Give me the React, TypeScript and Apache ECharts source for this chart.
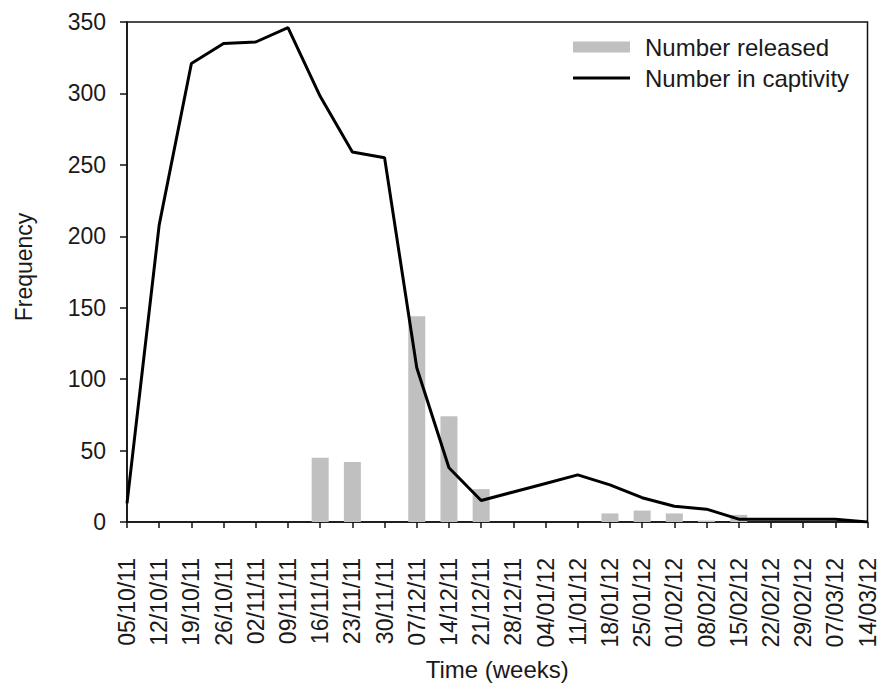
import React, { useEffect, useRef } from "react";
import * as echarts from "echarts";

const weeks = [
  "05/10/11", "12/10/11", "19/10/11", "26/10/11", "02/11/11", "09/11/11",
  "16/11/11", "23/11/11", "30/11/11", "07/12/11", "14/12/11", "21/12/11",
  "28/12/11", "04/01/12", "11/01/12", "18/01/12", "25/01/12", "01/02/12",
  "08/02/12", "15/02/12", "22/02/12", "29/02/12", "07/03/12", "14/03/12",
];
const numberReleased = [
  0, 0, 0, 0, 0, 0, 45, 42, 0, 144, 74, 23,
  0, 0, 0, 6, 8, 6, 1, 5, 0, 0, 0, 0,
];
const numberInCaptivity = [
  13, 208, 321, 335, 336, 346, 298, 259, 255, 108, 38, 15,
  21, 27, 33, 26, 17, 11, 9, 2, 2, 2, 2, 0,
];
const yTicks = { min: 0, max: 350, interval: 50 };

const FONT = "'Liberation Sans', Arial, sans-serif";
const FS = 23;

export default function App() {
  const ref = useRef<HTMLDivElement>(null);
  useEffect(() => {
    if (!ref.current) return;
    const chart = echarts.init(ref.current, undefined, { renderer: "svg" });
    chart.setOption({
      animation: false,
      backgroundColor: "#fff",
      textStyle: { fontFamily: FONT },
      grid: {
        left: 127,
        right: 10,
        top: 22,
        bottom: 167,
        show: true,
        borderColor: "#111",
        borderWidth: 1.5,
        backgroundColor: "transparent",
      },
      legend: {
        orient: "vertical",
        left: 573,
        top: 35,
        itemGap: 7,
        itemWidth: 57,
        itemHeight: 11,
        padding: 0,
        symbolKeepAspect: true,
        textStyle: { fontSize: 24, color: "#1a1a1a", fontFamily: FONT, padding: [0, 0, 0, 10] },
        data: [
          { name: "Number released", icon: "rect" },
          { name: "Number in captivity", icon: "path://M0,0h57v3h-57z" },
        ],
      },
      xAxis: {
        type: "category",
        data: weeks,
        boundaryGap: false,
        name: "Time (weeks)",
        nameLocation: "middle",
        nameGap: 135,
        nameTextStyle: { fontSize: 24, color: "#1a1a1a", fontFamily: FONT },
        axisLine: { lineStyle: { color: "#111", width: 1.5 } },
        axisTick: { show: true, inside: false, length: 6, lineStyle: { color: "#111", width: 1.5 } },
        axisLabel: {
          interval: 0,
          rotate: 90,
          fontSize: FS,
          color: "#1a1a1a",
          margin: 36,
          fontFamily: FONT,
        },
        splitLine: { show: false },
      },
      yAxis: {
        type: "value",
        min: yTicks.min,
        max: yTicks.max,
        interval: yTicks.interval,
        name: "Frequency",
        nameLocation: "middle",
        nameGap: 92,
        nameRotate: 90,
        nameTextStyle: { fontSize: FS, color: "#1a1a1a", fontFamily: FONT, padding: [0, 0, 0, 10] },
        axisLine: { show: true, lineStyle: { color: "#111", width: 1.5 } },
        axisTick: { show: true, inside: false, length: 7, lineStyle: { color: "#111", width: 1.5 } },
        axisLabel: { fontSize: FS, color: "#1a1a1a", margin: 21, fontFamily: FONT },
        splitLine: { show: false },
      },
      series: [
        {
          name: "Number released",
          type: "bar",
          data: numberReleased,
          barWidth: 17,
          itemStyle: { color: "#c0c0c0" },
          z: 1,
        },
        {
          name: "Number in captivity",
          type: "line",
          data: numberInCaptivity,
          symbol: "none",
          lineStyle: { color: "#000", width: 3 },
          itemStyle: { color: "#000" },
          z: 3,
        },
      ],
    });
    return () => chart.dispose();
  }, []);
  return <div ref={ref} style={{ width: 879, height: 689, position: "absolute", left: 0, top: 0 }} />;
}
